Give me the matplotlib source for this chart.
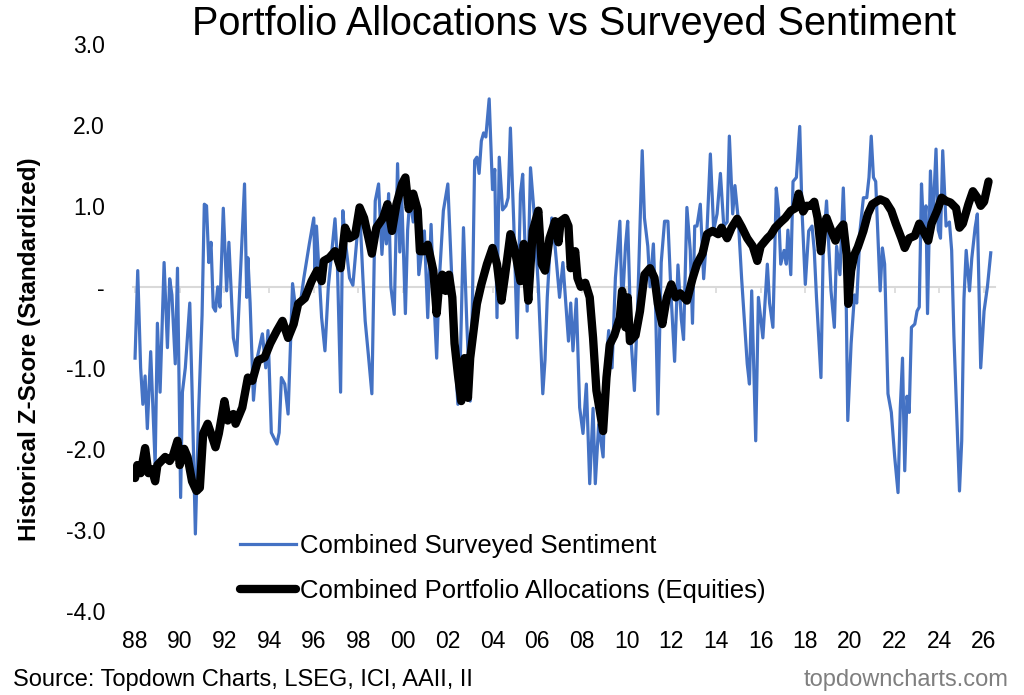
import matplotlib
matplotlib.use("Agg")
import matplotlib.pyplot as plt

plt.rcParams['font.family'] = ['Liberation Sans', 'DejaVu Sans']

# Combined Surveyed Sentiment (decimal year, z-score)
sent_years = [
    1988.00, 1988.12, 1988.25, 1988.35, 1988.45, 1988.55, 1988.70, 1988.90,
    1989.00, 1989.12, 1989.30, 1989.45, 1989.55, 1989.65, 1989.80, 1989.90,
    1990.04, 1990.12, 1990.25, 1990.45, 1990.55, 1990.70, 1990.85,
    1991.00, 1991.10, 1991.20, 1991.30, 1991.40, 1991.50, 1991.60, 1991.70, 1991.80, 1991.95,
    1992.10, 1992.20, 1992.40, 1992.55, 1992.90,
    1993.00, 1993.05, 1993.15, 1993.30, 1993.45, 1993.70, 1993.85, 1993.95,
    1994.10, 1994.35, 1994.45, 1994.55, 1994.70, 1994.85, 1994.95,
    1995.05, 1995.20, 1995.40, 1995.55, 1995.80,
    1996.00, 1996.05, 1996.12, 1996.35, 1996.50, 1996.65, 1996.95,
    1997.05, 1997.20, 1997.30, 1997.40, 1997.60, 1997.75, 1997.90,
    1998.05, 1998.20, 1998.30, 1998.45, 1998.60, 1998.75, 1998.90,
    1999.05, 1999.15, 1999.25, 1999.35, 1999.45, 1999.60, 1999.75, 1999.85, 1999.92,
    2000.10, 2000.20, 2000.30, 2000.45, 2000.60, 2000.70, 2000.95,
    2001.10, 2001.25, 2001.35, 2001.50, 2001.60, 2001.80,
    2002.00, 2002.20, 2002.30, 2002.45, 2002.55, 2002.70, 2002.85,
    2003.00, 2003.10, 2003.20, 2003.30, 2003.40, 2003.50, 2003.60, 2003.70, 2003.85,
    2004.00, 2004.10, 2004.20, 2004.30, 2004.45, 2004.60, 2004.70, 2004.80, 2004.95,
    2005.10, 2005.25, 2005.35, 2005.55, 2005.70, 2005.85,
    2006.05, 2006.25, 2006.35, 2006.45, 2006.65, 2006.80,
    2007.00, 2007.15, 2007.40, 2007.50, 2007.60, 2007.75, 2007.90,
    2008.05, 2008.20, 2008.35, 2008.50, 2008.60, 2008.75, 2008.95,
    2009.05, 2009.20, 2009.35, 2009.50, 2009.70, 2009.80, 2009.95,
    2010.05, 2010.20, 2010.35, 2010.50, 2010.70, 2010.80, 2010.95,
    2011.05, 2011.20, 2011.30, 2011.40, 2011.55, 2011.70, 2011.85,
    2012.00, 2012.15, 2012.30, 2012.45, 2012.55, 2012.70, 2012.85, 2012.95,
    2013.05, 2013.15, 2013.30, 2013.45, 2013.60, 2013.75, 2013.90,
    2014.05, 2014.20, 2014.35, 2014.50, 2014.60, 2014.75, 2014.85,
    2015.00, 2015.15, 2015.40, 2015.50, 2015.60, 2015.78, 2015.90,
    2016.10, 2016.30, 2016.40, 2016.55, 2016.70, 2016.80, 2016.90,
    2017.05, 2017.15, 2017.22, 2017.35, 2017.45, 2017.60, 2017.75, 2017.85,
    2018.00, 2018.15, 2018.30, 2018.40, 2018.50, 2018.70, 2018.80, 2018.95,
    2019.05, 2019.15, 2019.30, 2019.40, 2019.55, 2019.70, 2019.80, 2019.90,
    2020.05, 2020.20, 2020.30, 2020.45, 2020.60, 2020.75, 2020.85, 2020.95,
    2021.05, 2021.15, 2021.35, 2021.45, 2021.55, 2021.70, 2021.85,
    2022.00, 2022.15, 2022.25, 2022.35, 2022.45, 2022.55, 2022.65, 2022.75, 2022.90,
    2023.00, 2023.10, 2023.20, 2023.30, 2023.40, 2023.47, 2023.60, 2023.70, 2023.85, 2023.95,
    2024.05, 2024.15, 2024.30, 2024.45, 2024.55, 2024.65, 2024.80, 2024.90,
    2025.00, 2025.10, 2025.20, 2025.35, 2025.45, 2025.60, 2025.70, 2025.85,
    2026.00, 2026.15, 2026.30,
]
sent_values = [
    -0.88, 0.20, -1.00, -1.45, -1.10, -1.75, -0.80, -2.20,
    -0.45, -1.30, 0.30, -0.75, 0.10, -0.10, -0.95, 0.23,
    -2.60, -1.30, -1.00, -0.20, -1.25, -3.05, -1.50,
    -0.35, 1.02, 1.00, 0.30, 0.55, -0.25, -0.30, 0.00, -0.25, 0.97,
    -0.05, 0.55, -0.63, -0.85, 1.27,
    -0.13, 0.36, -0.20, -1.40, -0.90, -0.58, -1.00, -0.54,
    -1.80, -1.94, -1.80, -1.12, -1.20, -1.57, -0.75,
    0.04, -0.30, -0.20, 0.10, 0.53,
    0.85, 0.20, 0.75, -0.38, -0.79, 0.00, 0.84,
    0.35, -1.30, 0.94, 0.60, 0.11, 0.02, 0.50,
    0.98, 0.10, -0.42, -0.86, -1.32, 1.06, 1.27,
    0.40, 0.85, 0.53, 1.15, 0.00, -0.34, 1.52, 0.43, 1.27,
    -0.33, 0.70, 1.10, 0.80, 1.05, 0.15, 0.69,
    -0.38, 0.77, 0.00, -0.88, 0.00, 0.94,
    1.27, -0.05, -0.75, -1.45, -1.00, 0.73, -0.46,
    -1.41, -0.20, 1.56, 1.60, 1.40, 1.80, 1.90, 1.85, 2.32,
    1.20, 1.45, -0.38, 1.60, 0.95, 1.00, 1.10, 1.96, 0.80,
    -0.63, 1.15, 1.39, -0.30, 1.47, 0.95,
    0.00, -1.32, -0.90, -0.13, 0.85, 0.50,
    -0.13, 0.30, -0.67, -0.20, -0.79, -0.15, -1.49,
    -1.81, -1.20, -2.43, -1.50, -2.43, -1.70, -2.10,
    -1.05, -0.54, -1.00, 0.11, 0.81, -0.30, 0.50,
    0.81, -0.65, -1.28, -0.20, 1.68, 0.85, 0.50,
    0.00, 0.53, -0.26, -1.57, 0.30, 0.81, 0.81,
    -0.15, -0.92, 0.27, -0.40, -0.65, 0.98, 0.45, -0.45,
    0.75, 0.75, 1.02, 0.10, 0.70, 1.64, 0.70,
    0.90, 1.40, 0.75, 0.80, 1.86, 0.90, 1.25,
    0.83, 0.10, -0.95, -1.20, -0.05, -1.90, -0.13,
    -0.63, 0.28, -0.20, -0.50, 1.22, 0.95, 0.28,
    0.45, 0.28, 0.70, 0.15, 1.30, 1.35, 1.98, 0.95,
    0.03, 0.69, 0.75, 0.45, -0.13, -1.12, 0.45, 1.06,
    0.50, -0.05, -0.50, 0.50, 0.15, 1.22, 0.45, -1.65,
    -0.70, -0.10, -0.20, 0.70, 1.10, 1.10, 1.35, 1.86,
    1.35, 1.30, -0.05, 0.48, 0.28, -1.32, -1.55,
    -2.10, -2.54, -1.50, -0.88, -2.27, -1.35, -1.55, -0.50, -0.46,
    -0.30, -0.25, 1.27, 0.65, 1.00, -0.33, 1.43, 0.75, 1.70, 0.70,
    0.60, 1.68, 0.75, 0.80, 0.45, -0.60, -1.74, -2.52,
    -1.90, -0.15, 0.45, -0.05, 0.35, 0.73, 0.90, -1.00,
    -0.30, 0.00, 0.42,
]

# Combined Portfolio Allocations (Equities)
alloc_years = [
    1988.00, 1988.10, 1988.25, 1988.45, 1988.60, 1988.75, 1988.90,
    1989.00, 1989.35, 1989.55, 1989.70, 1989.90,
    1990.00, 1990.20, 1990.35, 1990.55, 1990.75, 1990.90,
    1991.05, 1991.25, 1991.40, 1991.60, 1991.75,
    1992.00, 1992.15, 1992.40, 1992.50, 1992.80,
    1993.05, 1993.25, 1993.50, 1993.80,
    1994.05, 1994.35, 1994.60, 1994.85,
    1995.10, 1995.30, 1995.60, 1995.90,
    1996.15, 1996.35, 1996.45, 1996.70, 1996.95,
    1997.20, 1997.40, 1997.60, 1997.85,
    1998.05, 1998.25, 1998.60, 1998.80,
    1999.10, 1999.30, 1999.50, 1999.70, 1999.95,
    2000.10, 2000.25, 2000.45, 2000.65, 2000.75, 2000.95,
    2001.10, 2001.35, 2001.50, 2001.60, 2001.75, 2001.90,
    2002.05, 2002.20, 2002.30, 2002.45, 2002.60, 2002.75, 2002.90,
    2003.00, 2003.30, 2003.50, 2003.75,
    2004.00, 2004.20, 2004.40, 2004.55, 2004.80,
    2005.00, 2005.25, 2005.40, 2005.60, 2005.80,
    2006.05, 2006.20, 2006.35, 2006.55, 2006.80, 2006.95,
    2007.05, 2007.25, 2007.40, 2007.50, 2007.70, 2007.80, 2007.95,
    2008.15, 2008.35, 2008.50, 2008.65, 2008.80, 2008.95,
    2009.10, 2009.25, 2009.45, 2009.70, 2009.80, 2009.95,
    2010.05, 2010.15, 2010.40, 2010.60, 2010.80,
    2011.05, 2011.25, 2011.40, 2011.60, 2011.80,
    2012.00, 2012.20, 2012.40, 2012.70, 2012.95,
    2013.15, 2013.40, 2013.60, 2013.85,
    2014.10, 2014.25, 2014.50, 2014.70, 2014.95,
    2015.15, 2015.40, 2015.65, 2015.85,
    2016.00, 2016.30, 2016.45, 2016.65, 2016.90,
    2017.10, 2017.35, 2017.55, 2017.70, 2017.90,
    2018.05, 2018.25, 2018.40, 2018.55, 2018.70, 2018.80, 2018.95,
    2019.15, 2019.35, 2019.50, 2019.70, 2019.85, 2019.92,
    2020.05, 2020.20, 2020.35, 2020.60, 2020.80,
    2021.00, 2021.35, 2021.60, 2021.85,
    2022.05, 2022.30, 2022.45, 2022.65, 2022.90,
    2023.10, 2023.35, 2023.50, 2023.65, 2023.90,
    2024.10, 2024.30, 2024.50, 2024.75, 2024.90,
    2025.05, 2025.30, 2025.50, 2025.70, 2025.85,
    2026.00, 2026.20,
]
alloc_values = [
    -2.36, -2.20, -2.30, -1.99, -2.30, -2.25, -2.40,
    -2.20, -2.10, -2.15, -2.08, -1.90,
    -2.20, -2.00, -2.10, -2.40, -2.52, -2.48,
    -1.81, -1.69, -1.81, -1.98, -1.81,
    -1.41, -1.65, -1.57, -1.69, -1.49,
    -1.12, -1.16, -0.91, -0.87,
    -0.70, -0.54, -0.42, -0.63,
    -0.46, -0.21, -0.14, 0.07,
    0.20, 0.07, 0.32, 0.36, 0.44,
    0.23, 0.73, 0.60, 0.64,
    0.98, 0.85, 0.41, 0.73,
    0.85, 1.02, 0.69, 1.02, 1.27,
    1.35, 0.96, 1.15, 0.95, 0.44, 0.44,
    0.52, 0.20, -0.33, 0.00, 0.15, -0.05,
    0.15, -0.13, -0.70, -1.08, -1.41, -0.88, -1.37,
    -0.88, -0.21, 0.03, 0.28,
    0.48, 0.28, -0.17, 0.12, 0.65,
    0.45, 0.07, 0.53, -0.17, 0.69,
    0.94, 0.28, 0.20, 0.60, 0.81, 0.55,
    0.81, 0.85, 0.75, 0.23, 0.44, 0.11, 0.00,
    0.05, -0.13, -0.63, -1.28, -1.53, -1.78,
    -1.12, -0.71, -0.60, -0.38, -0.05, -0.50,
    -0.13, -0.67, -0.60, -0.30, 0.15,
    0.23, 0.11, -0.21, -0.46, -0.13,
    0.03, -0.13, -0.08, -0.17, 0.10,
    0.28, 0.41, 0.65, 0.69,
    0.65, 0.73, 0.60, 0.73, 0.84,
    0.74, 0.60, 0.50, 0.32,
    0.50, 0.60, 0.64, 0.73, 0.80,
    0.85, 0.94, 0.97, 1.15, 0.93,
    1.00, 1.00, 1.05, 0.85, 0.44, 0.73, 0.85,
    0.70, 0.57, 0.70, 0.77, 0.40, -0.21,
    0.20, 0.40, 0.49, 0.69, 0.90,
    1.02, 1.08, 1.05, 0.94,
    0.78, 0.60, 0.48, 0.60, 0.63,
    0.78, 0.65, 0.57, 0.78, 0.94,
    1.10, 1.06, 1.04, 0.97, 0.73,
    0.78, 1.02, 1.18, 1.10, 1.00,
    1.05, 1.30,
]

x_ticks = list(range(1988, 2027, 2))
x_labels = ["%02d" % (y % 100) for y in x_ticks]
y_ticks = [3, 2, 1, 0, -1, -2, -3, -4]
y_labels = ["3.0", "2.0", "1.0", "-", "-1.0", "-2.0", "-3.0", "-4.0"]

fig = plt.figure(figsize=(10.24, 6.95), dpi=100)
ax = fig.add_axes([0.1297, 0.121, 0.8422, 0.816])

ax.plot(sent_years, sent_values, color='#4472C4', lw=2.3,
        label='Combined Surveyed Sentiment', zorder=3)
ax.plot(alloc_years, alloc_values, color='black', lw=6.0,
        solid_joinstyle='round', solid_capstyle='round',
        label='Combined Portfolio Allocations (Equities)', zorder=4)

ax.set_xlim(1987.9, 2026.5)
ax.set_ylim(-4, 3)

for s in ['top', 'right', 'left']:
    ax.spines[s].set_visible(False)
# axis line sits at zero, with small gray ticks
ax.spines['bottom'].set_position(('data', 0))
ax.spines['bottom'].set_color('#d9d9d9')
ax.spines['bottom'].set_linewidth(1.5)
ax.spines['bottom'].set_zorder(1)
ax.set_xticks(x_ticks)
ax.tick_params(axis='x', colors='#d9d9d9', length=4, width=1.2,
               direction='out', labelbottom=False)

sec = ax.secondary_xaxis(0)
sec.set_xticks(x_ticks)
sec.set_xticklabels(x_labels)
sec.spines['bottom'].set_visible(False)
sec.tick_params(axis='x', length=0, pad=14, labelsize=16.5, labelcolor='black')

ax.set_yticks(y_ticks)
ax.set_yticklabels(y_labels)
ax.tick_params(axis='y', length=0, pad=20, labelsize=16.5)

fig.text(0.029, 0.497, 'Historical Z-Score (Standardized)', rotation=90,
         fontsize=17.5, fontweight='bold', ha='center', va='center')
fig.text(0.561, 0.965, 'Portfolio Allocations vs Surveyed Sentiment',
         fontsize=28.5, ha='center', va='center')
fig.text(0.013, 0.021, 'Source: Topdown Charts, LSEG, ICI, AAII, II',
         fontsize=17, ha='left', va='center')
fig.text(0.985, 0.021, 'topdowncharts.com', fontsize=17, color='#7f7f7f',
         ha='right', va='center')

fig.legend(loc='upper left', bbox_to_anchor=(0.234, 0.231), frameon=False,
           fontsize=18.5, handlelength=2.2, handletextpad=0.15,
           labelspacing=0.8, borderpad=0, borderaxespad=0)

fig.savefig('out.png', dpi=100)
